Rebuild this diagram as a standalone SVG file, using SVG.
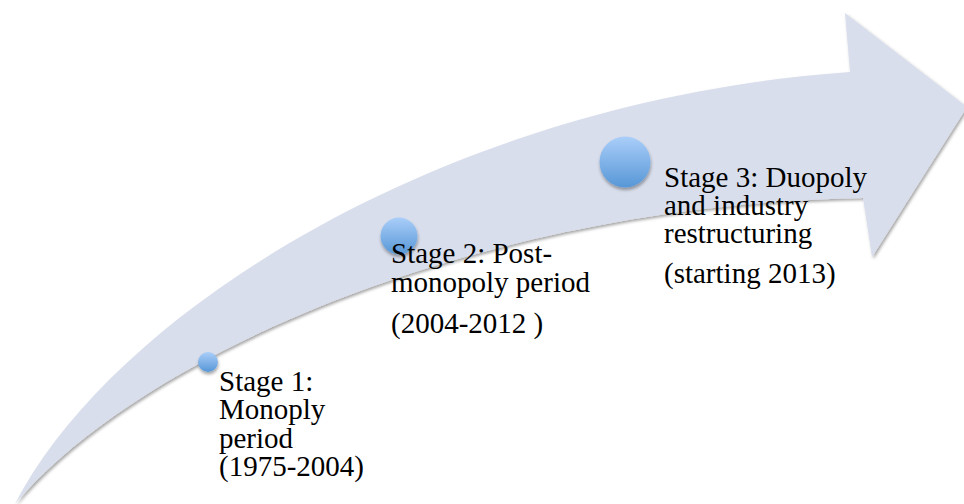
<svg xmlns="http://www.w3.org/2000/svg" width="964" height="504" viewBox="0 0 964 504">
  <style>
    .label { font-family: "Liberation Serif", "Times New Roman", serif; font-size: 29px; fill: #000000; }
    .dot { fill: url(#dotFill); filter: url(#dotShadow); }
  </style>
  <defs>
    <linearGradient id="dotFill" x1="0" y1="0" x2="0" y2="1">
      <stop offset="0" stop-color="#AACEF9"/>
      <stop offset="1" stop-color="#5797D7"/>
    </linearGradient>
    <filter id="arrowShadow" x="-5%" y="-5%" width="110%" height="115%">
      <feDropShadow dx="1.5" dy="2" stdDeviation="1.6" flood-color="#000000" flood-opacity="0.35"/>
    </filter>
    <filter id="dotShadow" x="-40%" y="-40%" width="180%" height="190%">
      <feDropShadow dx="0.5" dy="2.5" stdDeviation="1.8" flood-color="#000000" flood-opacity="0.35"/>
    </filter>
  </defs>

  <!-- curved upward arrow in the background -->
  <g id="timeline-arrow">
    <path fill="#D9DEEC" filter="url(#arrowShadow)"
          d="M 15 504
             C 115 310, 450 100, 850 72
             L 845 13
             L 967 107
             L 872 257
             L 863 198
             C 480 205, 140 355, 15 504 Z"/>
  </g>

  <g id="stage1">
    <circle class="dot" cx="208" cy="362" r="10"/>
    <text class="label" x="219">
      <tspan x="219" y="390.5">Stage 1:</tspan>
      <tspan x="219" y="419">Monoply</tspan>
      <tspan x="219" y="447.5">period</tspan>
      <tspan x="219" y="476">(1975-2004)</tspan>
    </text>
  </g>

  <g id="stage2">
    <circle class="dot" cx="399" cy="236" r="18.5"/>
    <text class="label" x="391">
      <tspan x="391" y="263">Stage 2: Post-</tspan>
      <tspan x="391" y="291.5">monopoly period</tspan>
      <tspan x="391" y="333">(2004-2012 )</tspan>
    </text>
  </g>

  <g id="stage3">
    <circle class="dot" cx="625" cy="162" r="25.5"/>
    <text class="label" x="664">
      <tspan x="664" y="187">Stage 3: Duopoly</tspan>
      <tspan x="664" y="214.5">and industry</tspan>
      <tspan x="664" y="242.5">restructuring</tspan>
      <tspan x="664" y="283">(starting 2013)</tspan>
    </text>
  </g>
</svg>
